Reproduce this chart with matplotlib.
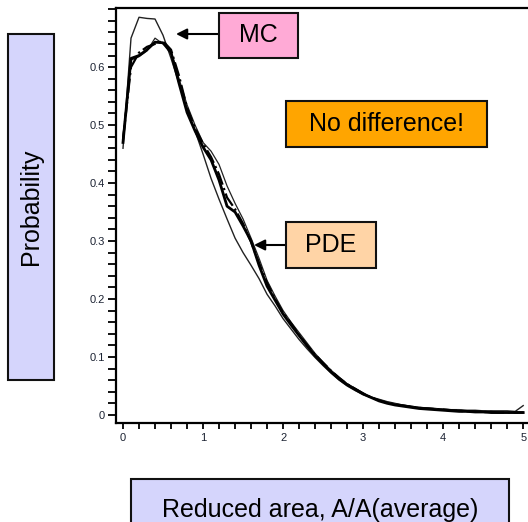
import matplotlib
matplotlib.use("Agg")

import numpy as np
import matplotlib.pyplot as plt
from matplotlib.patches import Rectangle
from matplotlib.ticker import MultipleLocator, FixedLocator, FuncFormatter

plt.rcParams['font.family'] = ['Liberation Sans', 'DejaVu Sans']

W, H = 528, 522

# reduced area A/A(average), step 0.1
area = np.round(np.arange(0, 5.01, 0.1), 2)
prob_ticks = [0, 0.1, 0.2, 0.3, 0.4, 0.5, 0.6]

mc = [0.460, 0.650, 0.686, 0.684, 0.683, 0.655, 0.615, 0.572, 0.530, 0.490,
      0.450, 0.408, 0.372, 0.338, 0.305, 0.280, 0.258, 0.235, 0.208, 0.188,
      0.166, 0.148, 0.130, 0.114, 0.099, 0.085, 0.072, 0.060, 0.050, 0.042,
      0.035, 0.030, 0.026, 0.022, 0.019, 0.017, 0.015, 0.013, 0.012, 0.011,
      0.010, 0.009, 0.009, 0.008, 0.008, 0.007, 0.007, 0.007, 0.007, 0.006,
      0.016]

pde_a = [0.470, 0.615, 0.620, 0.630, 0.643, 0.642, 0.625, 0.572, 0.522, 0.490,
         0.462, 0.440, 0.405, 0.360, 0.350, 0.326, 0.300, 0.258, 0.222, 0.198,
         0.174, 0.155, 0.137, 0.119, 0.102, 0.088, 0.074, 0.062, 0.052, 0.044,
         0.036, 0.030, 0.024, 0.020, 0.017, 0.015, 0.013, 0.011, 0.010, 0.009,
         0.008, 0.007, 0.006, 0.006, 0.005, 0.005, 0.004, 0.004, 0.004, 0.004,
         0.004]

pde_b = [0.475, 0.600, 0.625, 0.635, 0.640, 0.645, 0.630, 0.585, 0.530, 0.495,
         0.468, 0.445, 0.415, 0.375, 0.355, 0.330, 0.298, 0.262, 0.228, 0.200,
         0.176, 0.158, 0.138, 0.120, 0.104, 0.090, 0.076, 0.064, 0.053, 0.045,
         0.037, 0.030, 0.025, 0.021, 0.018, 0.016, 0.014, 0.012, 0.011, 0.010,
         0.009, 0.008, 0.007, 0.006, 0.006, 0.005, 0.005, 0.004, 0.004, 0.004,
         0.004]

pde_c = [0.480, 0.612, 0.618, 0.628, 0.650, 0.640, 0.628, 0.580, 0.535, 0.500,
         0.470, 0.455, 0.432, 0.395, 0.365, 0.338, 0.305, 0.270, 0.232, 0.205,
         0.180, 0.160, 0.142, 0.124, 0.106, 0.091, 0.077, 0.065, 0.054, 0.046,
         0.038, 0.031, 0.027, 0.023, 0.020, 0.017, 0.015, 0.013, 0.012, 0.011,
         0.010, 0.009, 0.008, 0.007, 0.007, 0.006, 0.006, 0.005, 0.005, 0.005,
         0.005]

fig = plt.figure(figsize=(W / 100, H / 100), dpi=100)
ax = fig.add_axes([116 / W, 1 - 423 / H, (W - 116) / W, (423 - 8) / H])

ax.plot(area, mc, color='#222222', lw=1.0)
ax.plot(area, pde_c, color='#222222', lw=0.9)
ax.plot(area, pde_b, color='black', lw=1.6, ls='-.')
ax.plot(area, pde_a, color='black', lw=2.0)

ax.set_xlim(-0.0875, 5.06)
ax.set_ylim(-0.014, 0.702)
ax.spines['right'].set_visible(False)
for s in ['top', 'left', 'bottom']:
    ax.spines[s].set_linewidth(1.6)

ax.xaxis.set_major_locator(MultipleLocator(1))
ax.xaxis.set_minor_locator(MultipleLocator(0.2))
ax.yaxis.set_major_locator(FixedLocator(prob_ticks))
ax.yaxis.set_minor_locator(MultipleLocator(0.02))
ax.yaxis.set_major_formatter(FuncFormatter(lambda v, p: '0' if abs(v) < 1e-9 else f'{v:.1f}'))
ax.tick_params(axis='x', which='both', direction='out', length=4, width=1.3,
               labelsize=8, labelcolor='#1c2333', pad=3)
ax.tick_params(axis='y', which='both', direction='out', length=6, width=1.3,
               labelsize=8, labelcolor='#1c2333', pad=2)


def box(x0, y0, x1, y1, face, text, size=18, rot=0):
    fig.add_artist(Rectangle((x0 / W, 1 - y1 / H), (x1 - x0) / W, (y1 - y0) / H,
                             transform=fig.transFigure, facecolor=face,
                             edgecolor='#111111', lw=1.5))
    fig.text((x0 + x1) / 2 / W, 1 - (y0 + y1) / 2 / H, text, fontsize=size,
             rotation=rot, ha='center', va='center', color='black')


def arrow(x_from, x_to, y):
    ax.annotate('', xy=(x_to, H - y), xycoords='figure pixels',
                xytext=(x_from, H - y), textcoords='figure pixels',
                arrowprops=dict(arrowstyle='-|>', color='black', lw=1.5,
                                mutation_scale=16, shrinkA=0, shrinkB=0),
                annotation_clip=False)


box(8, 34, 54, 380, '#d5d5fc', 'Probability', rot=90)
box(131, 479, 509, 540, '#d5d5fc', 'Reduced area, A/A(average)')
box(219, 13, 298, 58, '#ffaad6', 'MC')
box(286, 101, 487, 147, '#ffa500', 'No difference!')
box(286, 222, 376, 268, '#ffd4a6', 'PDE')

arrow(219, 176, 34)
arrow(286, 254, 245)

fig.savefig('out.png', dpi=100)
